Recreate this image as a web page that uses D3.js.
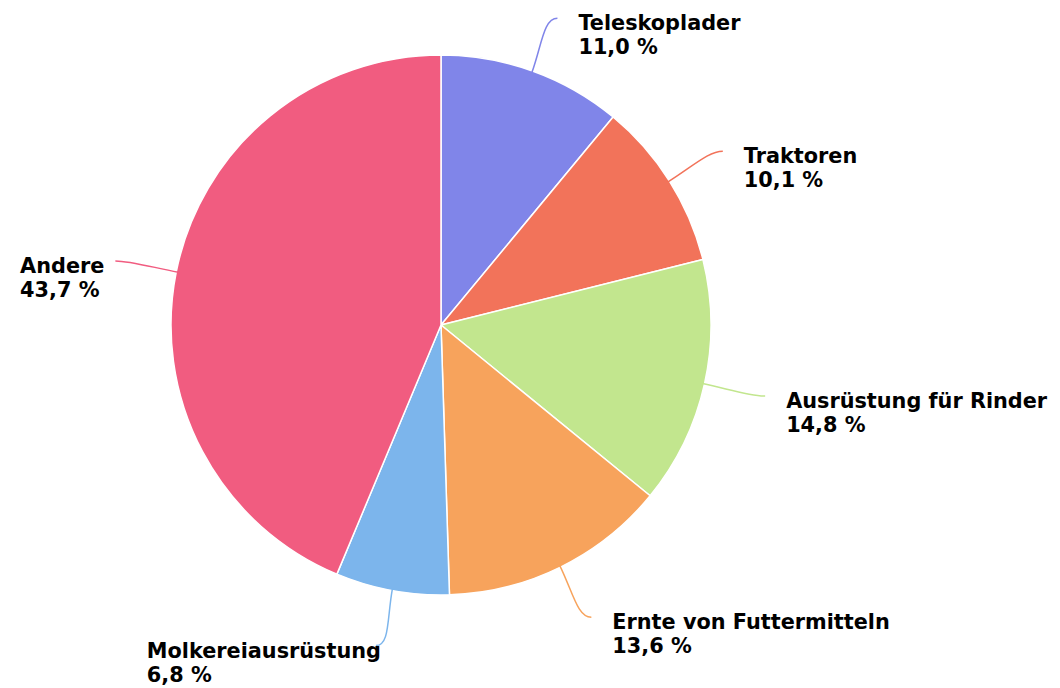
<!DOCTYPE html>
<html>
<head>
<meta charset="utf-8">
<script src="https://cdn.jsdelivr.net/npm/d3@7"></script>
<style>
  body { margin: 0; background: #fff; }
  svg text { font-family: "DejaVu Sans", sans-serif; font-weight: bold; font-size: 20.8px; fill: #000; }
</style>
</head>
<body>
<div id="chart"></div>
<script>
// data
var categories = ["Teleskoplader", "Traktoren", "Ausrüstung für Rinder", "Ernte von Futtermitteln", "Molkereiausrüstung", "Andere"];
var shares = [11.0, 10.1, 14.8, 13.6, 6.8, 43.7];
var colors = ["#8085e9", "#f2735a", "#c2e68e", "#f7a35c", "#7cb5ec", "#f15c80"];
// small label nudges (x) per slice
var labelNudge = [0, 0, 0, 0, 16, 0];

var W = 1060, H = 688;
var cx = 441, cy = 325, r = 270;

var svg = d3.select("#chart").append("svg").attr("width", W).attr("height", H);
var g = svg.append("g").attr("transform", "translate(" + cx + "," + cy + ")");

var data = categories.map(function(c, i){ return {name: c, value: shares[i], color: colors[i], nudge: labelNudge[i]}; });

var pie = d3.pie().value(function(d){ return d.value; }).sort(null);
var arc = d3.arc().innerRadius(0).outerRadius(r);
var arcs = pie(data);

g.selectAll("path.slice").data(arcs).enter().append("path")
  .attr("class", "slice")
  .attr("d", arc)
  .attr("fill", function(d){ return d.data.color; })
  .attr("stroke", "#fff")
  .attr("stroke-width", 1.5)
  .attr("stroke-linejoin", "round");

var fmt = function(v){ return v.toFixed(1).replace(".", ",") + " %"; };

function pt(a, rad){ return [Math.sin(a) * rad, -Math.cos(a) * rad]; }

arcs.forEach(function(d){
  var a = (d.startAngle + d.endAngle) / 2;
  var right = Math.sin(a) >= 0;
  var s = right ? 1 : -1;
  var p0 = pt(a, r - 2);
  var p1 = pt(a, r + 28);
  var p3 = pt(a, r + 56);
  p3[0] += s * 6;
  var p2 = [p3[0] - s * 14, p3[1]];
  g.append("path")
    .attr("d", "M" + p0 + "C" + p1 + " " + p2 + " " + p3)
    .attr("fill", "none")
    .attr("stroke", d.data.color)
    .attr("stroke-width", 1.5);

  var t = g.append("text").attr("y", p3[1] + 12);
  var l1 = t.append("tspan").text(d.data.name);
  var l2 = t.append("tspan").attr("dy", 24).text(fmt(d.data.value));
  var tx;
  if (right) {
    tx = p3[0] + 21;
  } else {
    // left side: block is left aligned, right edge near the connector end
    var bw = Math.max(l1.node().getComputedTextLength(), l2.node().getComputedTextLength());
    tx = p3[0] - 11 + d.data.nudge - bw;
  }
  l1.attr("x", tx);
  l2.attr("x", tx);
});
</script>
</body>
</html>
